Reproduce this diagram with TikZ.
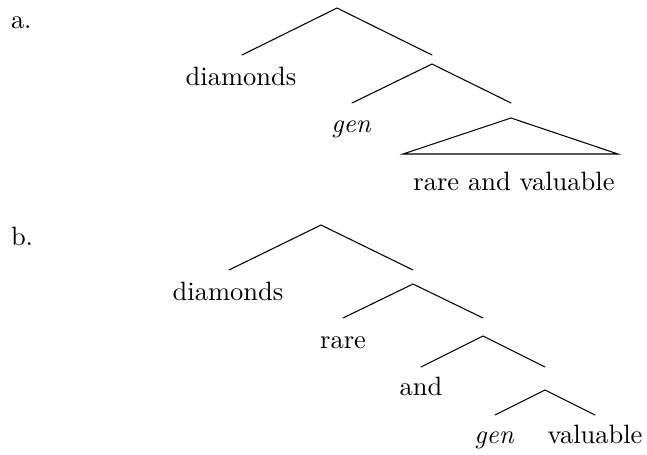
\documentclass[tikz,border=0pt]{standalone}
\begin{document}
\begin{tikzpicture}[x=0.3774pt,y=-0.3774pt,
  lbl/.style={anchor=base,inner sep=0pt,outer sep=0pt,font=\fontsize{10}{12}\selectfont},
  branch/.style={line width=0.4pt,line cap=round,line join=miter}]
\useasboundingbox (0,0) rectangle (647,454);
% ---------- (a) ----------
\node[lbl,anchor=base west] (la) at (11,28) {a.};
\coordinate (a0) at (337,8);
\coordinate (a0l) at (242,55);
\coordinate (a0r) at (432,55);
\node[lbl] (adiam) at (241,85) {diamonds};
\coordinate (a1) at (432,64);
\coordinate (a1l) at (352,103);
\coordinate (a1r) at (511,103);
\node[lbl] (agen) at (351,132) {\itshape gen};
\coordinate (at) at (511,118);
\coordinate (atl) at (403,154);
\coordinate (atr) at (618,154);
\node[lbl] (arav) at (514,190) {rare and valuable};
\draw[branch] (a0l) -- (a0) -- (a0r);
\draw[branch] (a1l) -- (a1) -- (a1r);
\draw[branch] (at) -- (atl) -- (atr) -- cycle;
% ---------- (b) ----------
\node[lbl,anchor=base west] (lb) at (11,245) {b.};
\coordinate (b0) at (321,225);
\coordinate (b0l) at (229,270);
\coordinate (b0r) at (413,270);
\node[lbl] (bdiam) at (228,300) {diamonds};
\coordinate (b1) at (413,284);
\coordinate (b1l) at (343,318);
\coordinate (b1r) at (483,318);
\node[lbl] (brare) at (343,348) {rare};
\coordinate (b2) at (483,336);
\coordinate (b2l) at (421,367);
\coordinate (b2r) at (545,367);
\node[lbl] (band) at (421,395) {and};
\coordinate (b3) at (545,390);
\coordinate (b3l) at (495,415);
\coordinate (b3r) at (595,415);
\node[lbl] (bgen) at (494,443) {\itshape gen};
\node[lbl] (bval) at (595,443) {valuable};
\draw[branch] (b0l) -- (b0) -- (b0r);
\draw[branch] (b1l) -- (b1) -- (b1r);
\draw[branch] (b2l) -- (b2) -- (b2r);
\draw[branch] (b3l) -- (b3) -- (b3r);
\end{tikzpicture}
\end{document}
